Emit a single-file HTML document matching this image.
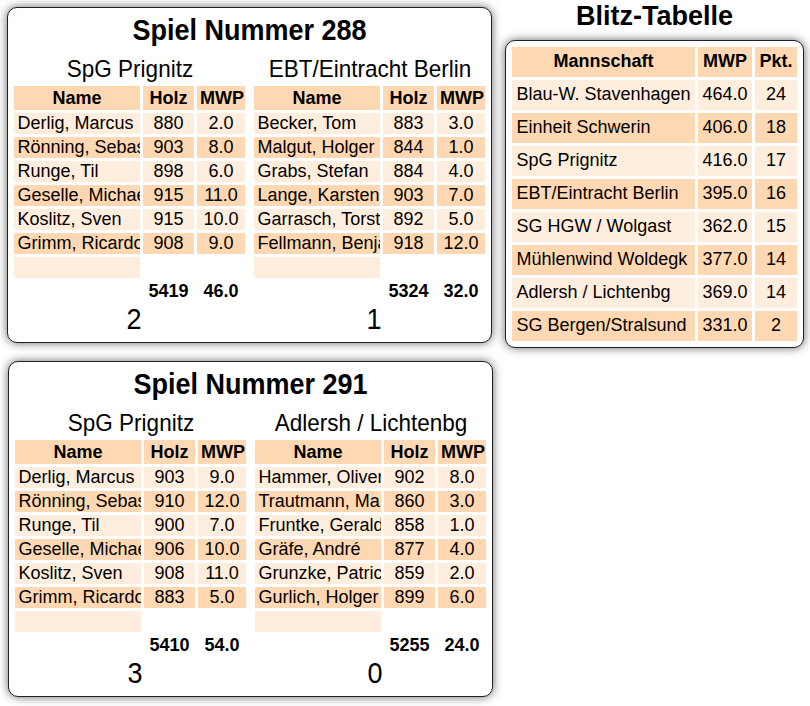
<!DOCTYPE html><html><head><meta charset="utf-8"><style>
html,body{margin:0;padding:0;background:#fff;}
body{width:810px;height:706px;position:relative;overflow:hidden;font-family:"Liberation Sans",sans-serif;color:#000;font-size:18px;}
.card{position:absolute;box-sizing:border-box;border:1px solid #222;border-radius:10px;box-shadow:0 0 10px #666;background:#fff;}
.g{width:485px;height:336px;}
.title{position:absolute;left:0;width:100%;text-align:center;font-weight:bold;font-size:27px;line-height:31px;white-space:nowrap;transform:scaleY(1.08);transform-origin:50% 25px;}
.team{position:absolute;width:237px;text-align:center;font-size:22.5px;line-height:26px;white-space:nowrap;transform:scaleY(1.06);transform-origin:50% 21px;}
.score{position:absolute;width:237px;text-align:center;font-size:27px;line-height:31px;transform:scaleY(1.08);transform-origin:50% 25px;}
table{position:absolute;border-collapse:separate;border-spacing:3px;table-layout:fixed;}
.t td,.t th{padding:0 3px;height:21px;line-height:21px;overflow:hidden;white-space:nowrap;}
.t th{height:24px;line-height:24px;background:#fed8b2;text-align:center;font-weight:bold;}
.t td{text-align:center;}
.t td.n{text-align:left;padding-left:3.5px;}
.t tr.l td{background:#ffeedd;}
.t tr.d td{background:#fed8b2;}
.t tr.e td.n{background:#ffeedd;}
.t tr.s td{font-weight:bold;}
.b td,.b th{padding:3.5px 4.5px 5.5px;height:21px;line-height:21px;white-space:nowrap;}
.b th{background:#fed8b2;font-weight:bold;text-align:center;}
.b td{text-align:center;}
.b td.n{text-align:left;}
.b tr.l td{background:#ffeedd;}
.b tr.d td{background:#fed8b2;}
.btitle{position:absolute;left:505px;width:299px;top:1px;text-align:center;font-weight:bold;font-size:27px;line-height:31px;white-space:nowrap;}
</style></head><body>
<div class="card g" style="left:7px;top:7px">
<div class="title" style="top:8px">Spiel Nummer 288</div>
<div class="team" style="left:3.5px;top:49px">SpG Prignitz</div>
<table class="t" style="left:3px;top:75px;width:237px"><colgroup><col style="width:126px"><col style="width:51px"><col style="width:48px"></colgroup>
<tr><th>Name</th><th>Holz</th><th>MWP</th></tr>
<tr class="l"><td class="n">Derlig, Marcus</td><td>880</td><td>2.0</td></tr>
<tr class="d"><td class="n">Rönning, Sebastian</td><td>903</td><td>8.0</td></tr>
<tr class="l"><td class="n">Runge, Til</td><td>898</td><td>6.0</td></tr>
<tr class="d"><td class="n">Geselle, Michael</td><td>915</td><td>11.0</td></tr>
<tr class="l"><td class="n">Koslitz, Sven</td><td>915</td><td>10.0</td></tr>
<tr class="d"><td class="n">Grimm, Ricardo</td><td>908</td><td>9.0</td></tr>
<tr class="e"><td class="n"></td><td></td><td></td></tr>
<tr class="s"><td class="n"></td><td>5419</td><td>46.0</td></tr>
</table>
<div class="score" style="left:7.5px;top:297px">2</div>
<div class="team" style="left:243.5px;top:49px">EBT/Eintracht Berlin</div>
<table class="t" style="left:243px;top:75px;width:237px"><colgroup><col style="width:126px"><col style="width:51px"><col style="width:48px"></colgroup>
<tr><th>Name</th><th>Holz</th><th>MWP</th></tr>
<tr class="l"><td class="n">Becker, Tom</td><td>883</td><td>3.0</td></tr>
<tr class="d"><td class="n">Malgut, Holger</td><td>844</td><td>1.0</td></tr>
<tr class="l"><td class="n">Grabs, Stefan</td><td>884</td><td>4.0</td></tr>
<tr class="d"><td class="n">Lange, Karsten</td><td>903</td><td>7.0</td></tr>
<tr class="l"><td class="n">Garrasch, Torsten</td><td>892</td><td>5.0</td></tr>
<tr class="d"><td class="n">Fellmann, Benjamin</td><td>918</td><td>12.0</td></tr>
<tr class="e"><td class="n"></td><td></td><td></td></tr>
<tr class="s"><td class="n"></td><td>5324</td><td>32.0</td></tr>
</table>
<div class="score" style="left:247.5px;top:297px">1</div>
</div>
<div class="card g" style="left:8px;top:361px">
<div class="title" style="top:8px">Spiel Nummer 291</div>
<div class="team" style="left:3.5px;top:49px">SpG Prignitz</div>
<table class="t" style="left:3px;top:75px;width:237px"><colgroup><col style="width:126px"><col style="width:51px"><col style="width:48px"></colgroup>
<tr><th>Name</th><th>Holz</th><th>MWP</th></tr>
<tr class="l"><td class="n">Derlig, Marcus</td><td>903</td><td>9.0</td></tr>
<tr class="d"><td class="n">Rönning, Sebastian</td><td>910</td><td>12.0</td></tr>
<tr class="l"><td class="n">Runge, Til</td><td>900</td><td>7.0</td></tr>
<tr class="d"><td class="n">Geselle, Michael</td><td>906</td><td>10.0</td></tr>
<tr class="l"><td class="n">Koslitz, Sven</td><td>908</td><td>11.0</td></tr>
<tr class="d"><td class="n">Grimm, Ricardo</td><td>883</td><td>5.0</td></tr>
<tr class="e"><td class="n"></td><td></td><td></td></tr>
<tr class="s"><td class="n"></td><td>5410</td><td>54.0</td></tr>
</table>
<div class="score" style="left:7.5px;top:297px">3</div>
<div class="team" style="left:243.5px;top:49px">Adlersh / Lichtenbg</div>
<table class="t" style="left:243px;top:75px;width:237px"><colgroup><col style="width:126px"><col style="width:51px"><col style="width:48px"></colgroup>
<tr><th>Name</th><th>Holz</th><th>MWP</th></tr>
<tr class="l"><td class="n">Hammer, Oliver</td><td>902</td><td>8.0</td></tr>
<tr class="d"><td class="n">Trautmann, Martin</td><td>860</td><td>3.0</td></tr>
<tr class="l"><td class="n">Fruntke, Gerald</td><td>858</td><td>1.0</td></tr>
<tr class="d"><td class="n">Gräfe, André</td><td>877</td><td>4.0</td></tr>
<tr class="l"><td class="n">Grunzke, Patrick</td><td>859</td><td>2.0</td></tr>
<tr class="d"><td class="n">Gurlich, Holger</td><td>899</td><td>6.0</td></tr>
<tr class="e"><td class="n"></td><td></td><td></td></tr>
<tr class="s"><td class="n"></td><td>5255</td><td>24.0</td></tr>
</table>
<div class="score" style="left:247.5px;top:297px">0</div>
</div>
<div class="btitle">Blitz-Tabelle</div>
<div class="card" style="left:505px;top:40px;width:299px;height:308px">
<table class="b" style="left:3px;top:3px;width:291px"><colgroup><col style="width:183px"><col style="width:54px"><col style="width:42px"></colgroup>
<tr><th>Mannschaft</th><th>MWP</th><th>Pkt.</th></tr>
<tr class="l"><td class="n">Blau-W. Stavenhagen</td><td>464.0</td><td>24</td></tr>
<tr class="d"><td class="n">Einheit Schwerin</td><td>406.0</td><td>18</td></tr>
<tr class="l"><td class="n">SpG Prignitz</td><td>416.0</td><td>17</td></tr>
<tr class="d"><td class="n">EBT/Eintracht Berlin</td><td>395.0</td><td>16</td></tr>
<tr class="l"><td class="n">SG HGW / Wolgast</td><td>362.0</td><td>15</td></tr>
<tr class="d"><td class="n">Mühlenwind Woldegk</td><td>377.0</td><td>14</td></tr>
<tr class="l"><td class="n">Adlersh / Lichtenbg</td><td>369.0</td><td>14</td></tr>
<tr class="d"><td class="n">SG Bergen/Stralsund</td><td>331.0</td><td>2</td></tr>
</table></div>
</body></html>
